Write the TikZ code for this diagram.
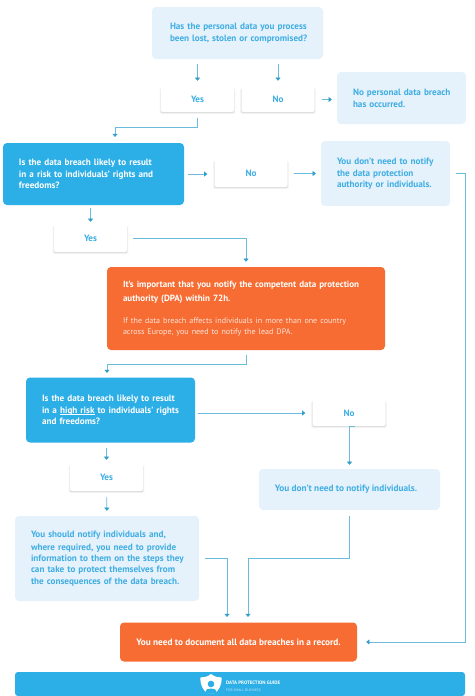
\documentclass[tikz,border=0pt]{standalone}
\usepackage{fontspec}
\setmainfont{PT Sans}
\usetikzlibrary{arrows.meta,shadows,calc}
\definecolor{lightbox}{HTML}{E5F1FB}
\definecolor{txtblue}{HTML}{3FAEE3}
\definecolor{mainblue}{HTML}{2CAEE6}
\definecolor{mainorange}{HTML}{F66C32}
\definecolor{linec}{HTML}{6DBBDC}
\definecolor{tipc}{HTML}{2E9FC9}
\newcommand{\oneline}[1]{\mbox{#1}}
\newcommand{\ulined}[1]{\setbox0=\hbox{#1}\rlap{\rule[-1.5pt]{\wd0}{.75pt}}#1}
\tikzset{
  basebox/.style={rectangle,rounded corners=4pt,inner xsep=0pt,inner ysep=0pt,font=\fontsize{9.15}{11.2}\selectfont\bfseries,align=left},
  sz/.style 2 args={minimum width=#1,minimum height=#2},
  nudge/.style={execute at begin node={\vspace*{#1}}},
  pale/.style={basebox,fill=lightbox,text=txtblue},
  strong/.style={basebox,fill=mainblue,text=white},
  hot/.style={basebox,fill=mainorange,text=white},
  softshade/.style={general shadow={fill=black,opacity=.035,shadow scale=1.04,shadow yshift=-1.6pt},
    general shadow={fill=black,opacity=.05,shadow scale=1.02,shadow yshift=-1.2pt},
    general shadow={fill=black,opacity=.06,shadow yshift=-.8pt}},
  answer/.style={basebox,rounded corners=2pt,fill=white,text=txtblue,align=center,softshade},
  conn/.style={draw=linec,line width=.7pt,-{Triangle[width=5pt,length=3.2pt,color=tipc]}},
  footbar/.style={rectangle,rounded corners=3pt,fill=mainblue,inner sep=0pt},
  foottext/.style={text=white,inner sep=0pt,anchor=west,font=\fontsize{4.9}{5}\selectfont\bfseries},
}
\begin{document}
\begin{tikzpicture}[x=1pt,y=-1pt]
\useasboundingbox (0,0) rectangle (474,696);
\fill[white] (0,0) rectangle (474,696);

\node[pale,sz={171}{52},text width=135,nudge=1pt] (q1) at (237.5,33) {\oneline{Has the personal data you process}\\\oneline{been lost, stolen or compromised?}};
\node[answer,sz={73}{25}] (yes1) at (197.5,99.5) {Yes};
\node[answer,sz={73}{25}] (no1) at (278,99.5) {No};
\node[pale,sz={129}{52},text width=97,nudge=1pt] (nopd) at (401.5,98) {\oneline{No personal data breach}\\has occurred.};

\node[strong,sz={181}{62},text width=149,nudge=1pt] (q2) at (93.5,174) {Is the data breach likely to result\\in a risk to individuals' rights and\\freedoms?};
\node[answer,sz={73}{27}] (no2) at (251,173.5) {No};
\node[pale,sz={129}{65},text width=97,nudge=1pt] (yd) at (385.5,173.5) {\oneline{You don't need to notify}\\the data protection\\\oneline{authority or individuals.}};
\node[answer,sz={73}{27}] (yes2) at (90.5,238.5) {Yes};

\node[hot,sz={278}{83},text width=246,nudge=3.4pt,font=\fontsize{9.03}{11.2}\selectfont\bfseries] (or) at (246,308.5) {\oneline{It's important that you notify the competent data protection}\\authority (DPA) within 72h.\\[11.7pt]{\fontsize{8.05}{10.2}\selectfont\mdseries\color{white!82!mainorange}If the data breach affects individuals in more than one country\\across Europe, you need to notify the lead DPA.}};

\node[strong,sz={169}{65},text width=137,nudge=1pt] (q3) at (110.5,410) {\oneline{Is the data breach likely to result}\\\oneline{in a \ulined{high risk} to individuals' rights}\\and freedoms?};
\node[answer,sz={73}{26}] (no3) at (349,413) {No};
\node[answer,sz={73}{27}] (yes3) at (106.5,477.5) {Yes};
\node[pale,sz={181}{41},align=center,font=\fontsize{9.25}{11.2}\selectfont\bfseries] (ind) at (349.5,489.5) {\oneline{You don't need to notify individuals.\hspace{7pt}}};
\node[pale,sz={184}{85},text width=152,nudge=1.6pt] (notify) at (107,558.5) {\oneline{You should notify individuals and,}\\\oneline{where required, you need to provide}\\\oneline{information to them on the steps they}\\\oneline{can take to protect themselves from}\\\oneline{the consequences of the data breach.}};
\node[hot,sz={237}{39},align=center,font=\fontsize{9.25}{11.2}\selectfont\bfseries] (doc) at (238.5,642) {You need to document all data breaches in a record.};

\node[footbar,sz={450}{24}] (foot) at (240,684) {};
\fill[white] (211,674) .. controls (207,677) and (204,677.5) .. (200.5,677.5)
  .. controls (200,685) and (203,690) .. (207,693) -- (215,693)
  .. controls (219,690) and (222,685) .. (221.5,677.5)
  .. controls (218,677.5) and (215,677) .. (211,674) -- cycle;
\fill[mainblue] (211,684) circle (3.3);
\fill[mainblue] (205.5,693) .. controls (205.5,689) and (208,688.5) .. (211,688.5)
  .. controls (214,688.5) and (216.5,689) .. (216.5,693) -- cycle;
\node[foottext] (ft1) at (226,683) {DATA PROTECTION GUIDE};
\node[foottext,opacity=.7,font=\fontsize{3.6}{4}\selectfont] (ft2) at (226,690) {FOR SMALL BUSINESS};

\coordinate (q2in) at (115,143);
\coordinate (q3in) at (107,377.5);
\coordinate (docA) at (227,622.5);
\coordinate (docB) at (248,622.5);

\draw[conn,shorten <=5pt,shorten >=6pt] (q1.south -| yes1.north) -- (yes1.north);
\draw[conn,shorten <=5pt,shorten >=6pt] (q1.south -| no1.north) -- (no1.north);
\draw[conn,shorten <=7pt,shorten >=5pt] (no1.east) -- (no1.east -| nopd.west);
\draw[conn,shorten <=6pt,shorten >=6pt] (yes1.south) -- ++(0,15) -| (q2in);
\draw[conn,shorten <=4pt,shorten >=7pt] (q2.east) -- (q2.east -| no2.west);
\draw[conn,shorten <=6pt,shorten >=5pt] (no2.east) -- (no2.east -| yd.west);
\draw[conn,shorten <=3pt,shorten >=3pt] (q2.south -| yes2.north) -- (yes2.north);
\draw[conn,shorten <=6pt,shorten >=5pt] (yes2.east) -- (yes2.east -| or.north) -- (or.north);
\draw[conn,shorten <=5pt,shorten >=4.5pt] (or.south) -- ++(0,14) -| (q3in);
\draw[conn,shorten <=3pt,shorten >=7pt] (q3.east |- no3.west) -- (no3.west);
\draw[conn,shorten <=5pt,shorten >=4pt] (q3.south -| yes3.north) -- (yes3.north);
\draw[conn,shorten <=6pt,shorten >=4pt] (no3.south) -- (no3.south -| ind.north) -- (ind.north);
\draw[conn,shorten <=6pt,shorten >=5pt] (yes3.south) -- (notify.north);
\draw[conn,shorten <=6pt,shorten >=5.5pt] (notify.east) -- (notify.east -| docA) -- (docA);
\draw[conn,shorten <=6pt,shorten >=5.5pt] (ind.south) -- (ind.south |- notify.east) -- (notify.east -| docB) -- (docB);
\draw[conn,shorten <=6pt,shorten >=9pt] (yd.east) -- ++(15,0) |- (doc.east);
\end{tikzpicture}
\end{document}
